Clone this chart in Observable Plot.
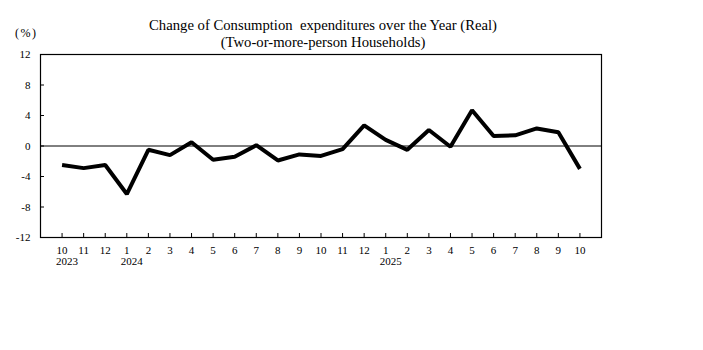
<!DOCTYPE html>
<html>
<head>
<meta charset="utf-8">
<script src="https://cdn.jsdelivr.net/npm/d3@7"></script>
<script src="https://cdn.jsdelivr.net/npm/@observablehq/plot@0.6"></script>
<style>
  html, body { margin: 0; padding: 0; background: #fff; }
  #wrap { position: relative; width: 703px; height: 350px; }
  .ttl { position: absolute; left: 0; width: 646px; text-align: center; font-family: "Liberation Serif", "Times New Roman", serif; font-size: 14.7px; color: #000; white-space: pre; }
  #unit { position: absolute; left: 15px; top: 26px; font-family: "Liberation Serif", serif; font-size: 12px; letter-spacing: 1.5px; }
</style>
</head>
<body>
<div id="wrap">
  <div class="ttl" style="top:17px">Change of Consumption  expenditures over the Year (Real)</div>
  <div class="ttl" style="top:34px">(Two-or-more-person Households)</div>
  <div id="unit">(%)</div>
</div>
<script>
const monthLabels = ["10","11","12","1","2","3","4","5","6","7","8","9","10","11","12","1","2","3","4","5","6","7","8","9","10"];
const values = [-2.5,-2.9,-2.5,-6.3,-0.5,-1.2,0.5,-1.8,-1.4,0.1,-1.9,-1.1,-1.3,-0.4,2.7,0.8,-0.5,2.1,-0.1,4.7,1.3,1.4,2.3,1.8,-3.0];
const yearLabels = [{i: 0, year: "2023"}, {i: 3, year: "2024"}, {i: 15, year: "2025"}];
const yTicks = [-12, -8, -4, 0, 4, 8, 12];

const data = values.map((v, i) => ({i, v}));
const font = '"Liberation Serif", "Times New Roman", serif';

const chart = Plot.plot({
  width: 703,
  height: 350,
  marginLeft: 40,
  marginRight: 102,
  marginTop: 54,
  marginBottom: 113,
  style: {fontFamily: font, fontSize: "11px", color: "#000", background: "#fff"},
  x: {type: "point", domain: d3.range(values.length), padding: 1, round: false},
  y: {domain: [-12, 12]},
  marks: [
    Plot.ruleY([0], {stroke: "#000", strokeWidth: 1}),
    Plot.line(data, {x: "i", y: "v", stroke: "#000", strokeWidth: 4, strokeLinejoin: "miter", strokeLinecap: "butt"}),
    Plot.axisY(yTicks, {anchor: "left", tickSize: -4, tickPadding: 14, tickFormat: d => String(d), label: null, stroke: "#000", strokeOpacity: 1}),
    Plot.axisX(d3.range(values.length), {anchor: "bottom", tickSize: -4, tickPadding: 13, tickFormat: i => monthLabels[i], label: null, stroke: "#000", strokeOpacity: 1}),
    Plot.text(yearLabels, {x: "i", text: "year", frameAnchor: "bottom", textAnchor: "start", lineAnchor: "top", dx: -6, dy: 20, fontSize: 11, fill: "#000"}),
    Plot.frame({stroke: "#000", strokeWidth: 1.2})
  ]
});
document.getElementById("wrap").prepend(chart);
chart.style.position = "absolute";
chart.style.left = "0";
chart.style.top = "0";
</script>
</body>
</html>
